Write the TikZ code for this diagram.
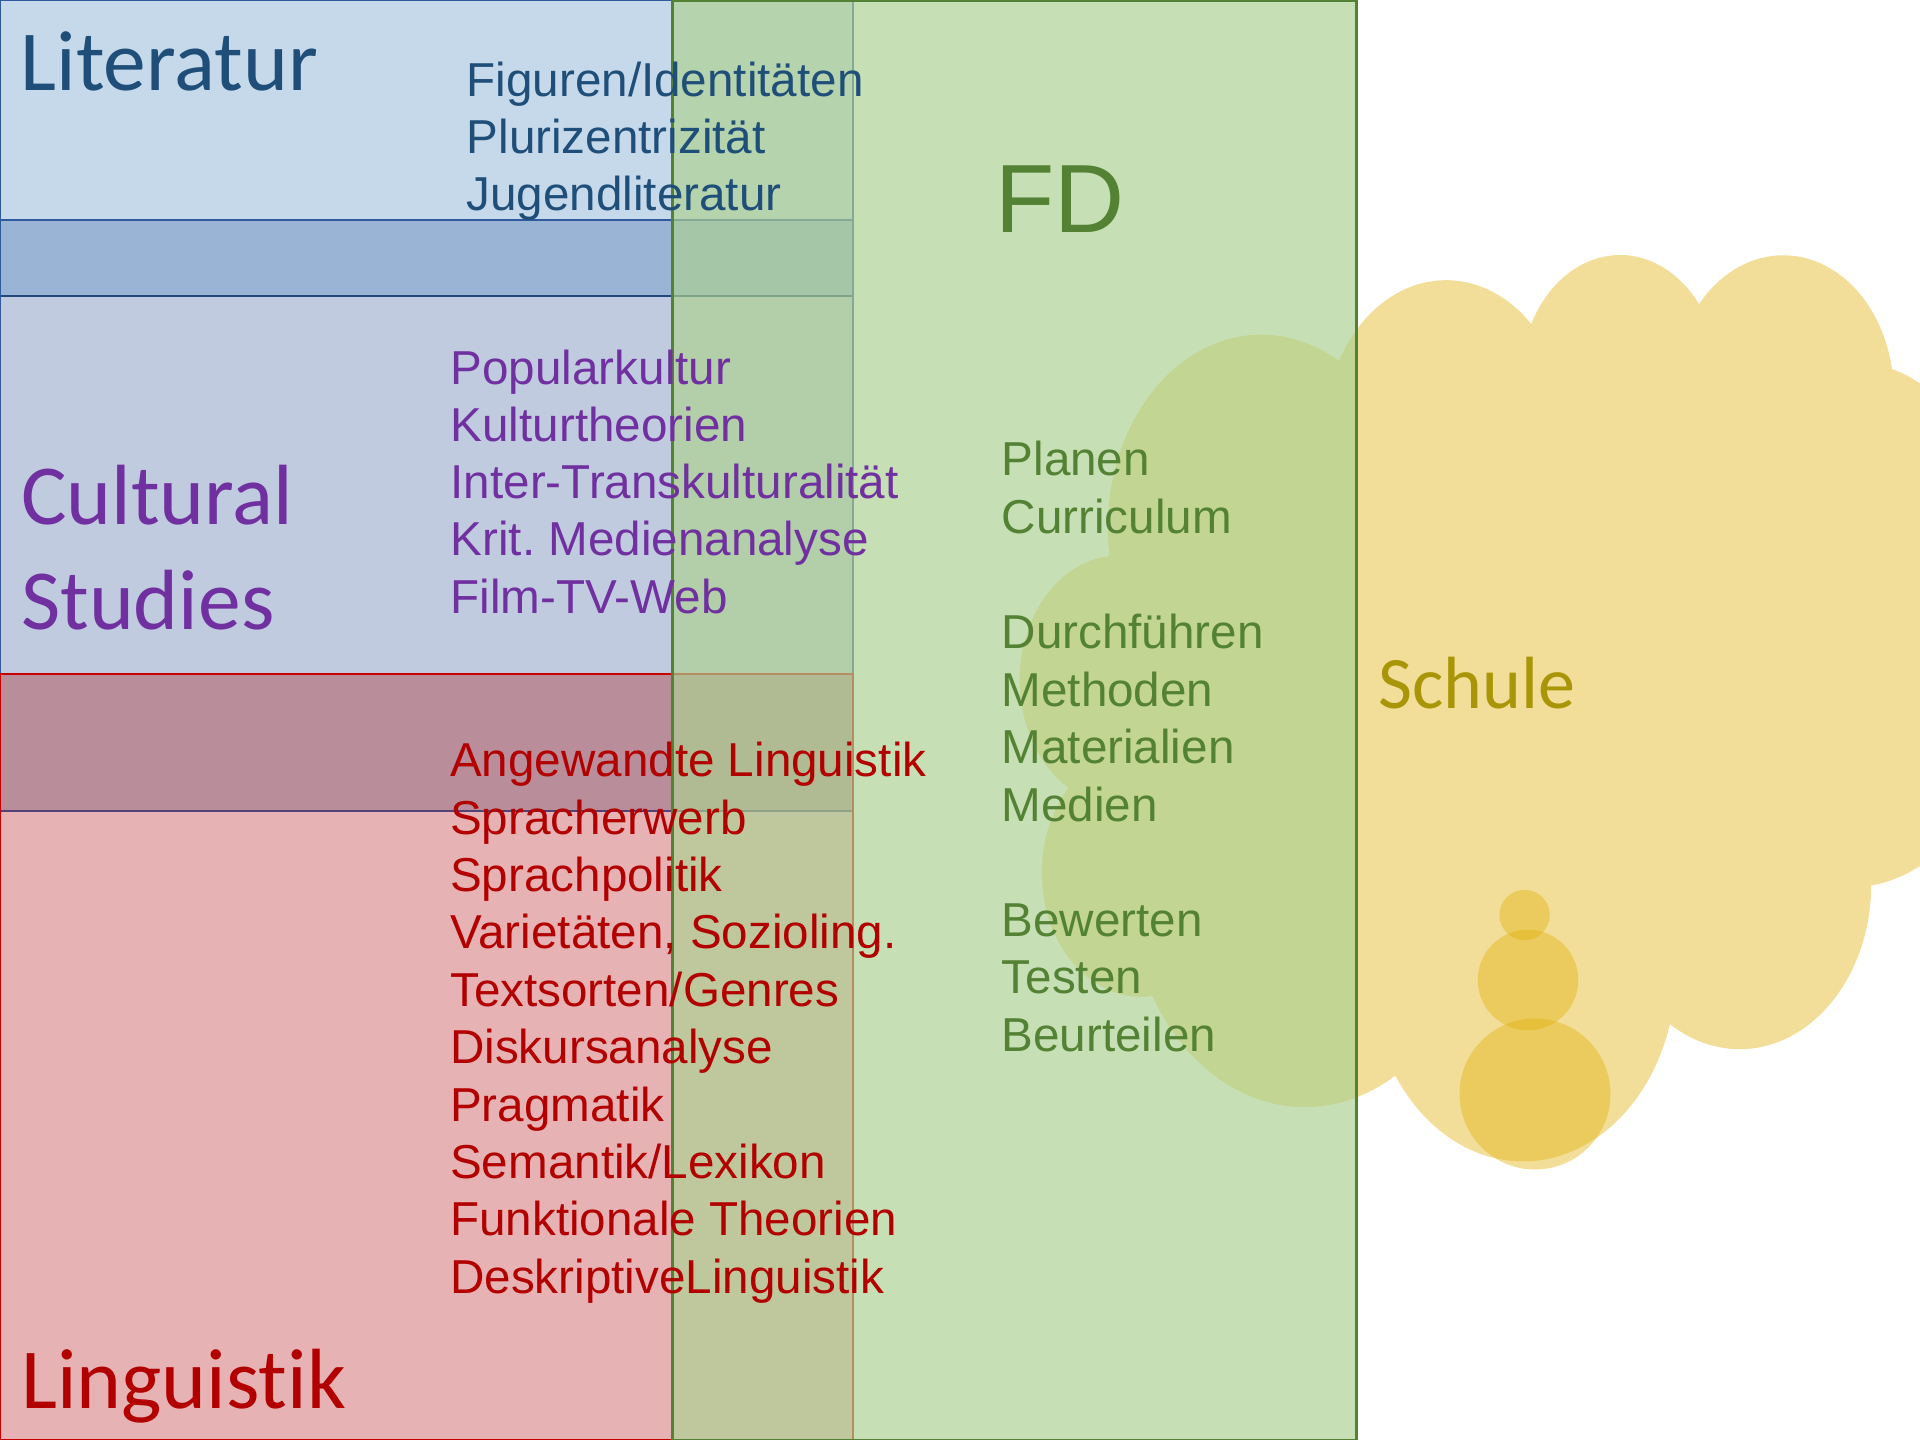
\documentclass[tikz,border=0pt]{standalone}
\usepackage{fontspec}
\setmainfont{Liberation Sans}
\newfontfamily\calib[Ligatures=NoCommon]{Carlito}
\frenchspacing
\definecolor{litfill}{RGB}{198,217,235}
\definecolor{litcsfill}{RGB}{154,180,214}
\definecolor{csfill}{RGB}{193,203,224}
\definecolor{cslingfill}{RGB}{185,142,154}
\definecolor{lingfill}{RGB}{230,178,180}
\definecolor{litline}{RGB}{48,90,158}
\definecolor{litlinedark}{RGB}{36,72,125}
\definecolor{cslinetint}{RGB}{82,66,118}
\definecolor{lingline}{RGB}{200,0,0}
\definecolor{fdfill}{RGB}{173,209,145}
\definecolor{fdline}{RGB}{84,130,53}
\definecolor{cloudfill}{RGB}{226,178,12}
\definecolor{littext}{RGB}{31,78,121}
\definecolor{cstext}{RGB}{112,48,160}
\definecolor{lingtext}{RGB}{178,0,0}
\definecolor{schuletext}{RGB}{168,150,8}
\begin{document}
\frenchspacing
\begin{tikzpicture}[x=1pt,y=-1pt,
  title/.style={anchor=base west, inner sep=0pt, font=\calib\fontsize{85.5}{100}\selectfont},
  item/.style={anchor=base west, inner sep=0pt, font=\frenchspacing\fontsize{47.6}{57}\selectfont},
  rectline/.style={line width=2pt},
  cloudpart/.style={fill=cloudfill, fill opacity=0.42}]
\path[use as bounding box, clip] (0,0) rectangle (1920,1440);
\fill[white] (0,0) rectangle (1920,1440);
% left bands
\fill[litfill] (0,0) rectangle (853,220);
\fill[litcsfill] (0,220) rectangle (853,296);
\fill[csfill] (0,296) rectangle (853,674);
\fill[cslingfill] (0,674) rectangle (853,811);
\fill[lingfill] (0,811) rectangle (853,1440);
% borders
\draw[rectline, litline] (0,0) rectangle (853,296);
\draw[rectline, litlinedark] (0,296) -- (853,296);
\draw[rectline, litline] (0,220) rectangle (853,811);
\draw[rectline, cslinetint] (0,811) -- (853,811);
\draw[rectline, lingline] (0,674) rectangle (853,1440);
% cloud (Schule)
\begin{scope}[shift={(1020.5,252)}, x=22.743pt, y=-20.972pt]
\fill[cloudpart] (3.9,14.37)
 arc[start angle=-187.747, end angle=-59.636, x radius=6.753, y radius=9.19]
 arc[start angle=-152.03, end angle=-45.42, x radius=5.333, y radius=7.267]
 arc[start angle=-153.48, end angle=-37.32, x radius=4.365, y radius=5.945]
 arc[start angle=-139.70, end angle=-10.21, x radius=4.857, y radius=6.595]
 arc[start angle=-74.77, end angle=23.21, x radius=5.333, y radius=7.273]
 arc[start angle=-37.52, end angle=81.86, x radius=6.775, y radius=9.22]
 arc[start angle=0.4596, end angle=121.98, x radius=5.785, y radius=7.867]
 arc[start angle=16.84, end angle=146.25, x radius=6.752, y radius=9.215]
 arc[start angle=58.98, end angle=150.20, x radius=7.72, y radius=10.543]
 arc[start angle=83.31, end angle=223.10, x radius=4.36, y radius=5.918]
 arc[start angle=120.36, end angle=264.11, x radius=4.345, y radius=5.945]
 -- cycle;
\end{scope}
\fill[cloudpart] (1524.6,915) circle[radius=25.2];
\fill[cloudpart] (1528,980) circle[radius=50.3];
\fill[cloudpart] (1535,1094) circle[radius=75.5];
% FD rectangle on top
\draw[line width=3pt, fdline, fill=fdfill, fill opacity=0.68] (672,0) rectangle (1356,1440);
% titles
\node[title, text=littext] (literatur) at (20.5,90) {Literatur};
\node[title, text=cstext] (cultural) at (21,524) {Cultural};
\node[title, text=cstext] (studies) at (21,629) {Studies};
\node[title, text=lingtext] (linguistik) at (21,1408) {Linguistik};
\node[anchor=base west, inner sep=0pt, font=\fontsize{97}{110}\selectfont, text=fdline] (fd) at (995,232.7) {FD};
\node[anchor=base west, inner sep=0pt, font=\calib\fontsize{74}{90}\selectfont, text=schuletext] (schule) at (1378,708) {Schule};
% lists
\foreach \t [count=\i from 0] in {Figuren/Identitäten, Plurizentrizität, Jugendliteratur}
  \node[item, text=littext] (lit\i) at (466.5,96+57.4*\i) {\t};
\foreach \t [count=\i from 0] in {Popularkultur, Kulturtheorien, Inter-Transkulturalität, Krit. Medienanalyse, Film-TV-Web}
  \node[item, text=cstext] (cs\i) at (450.5,384+57.3*\i) {\t};
\foreach \t [count=\i from 0] in {Angewandte Linguistik, Spracherwerb, Sprachpolitik, {Varietäten, Sozioling.}, Textsorten/Genres, Diskursanalyse, Pragmatik, Semantik/Lexikon, Funktionale Theorien, DeskriptiveLinguistik}
  \node[item, text=lingtext] (ling\i) at (450,776.7+57.4*\i) {\t};
\foreach \t/\k in {Planen/0, Curriculum/1, Durchführen/3, Methoden/4, Materialien/5, Medien/6, Bewerten/8, Testen/9, Beurteilen/10}
  \node[item, text=fdline] (fd\k) at (1001.5,475.8+57.56*\k) {\t};
\end{tikzpicture}
\end{document}
